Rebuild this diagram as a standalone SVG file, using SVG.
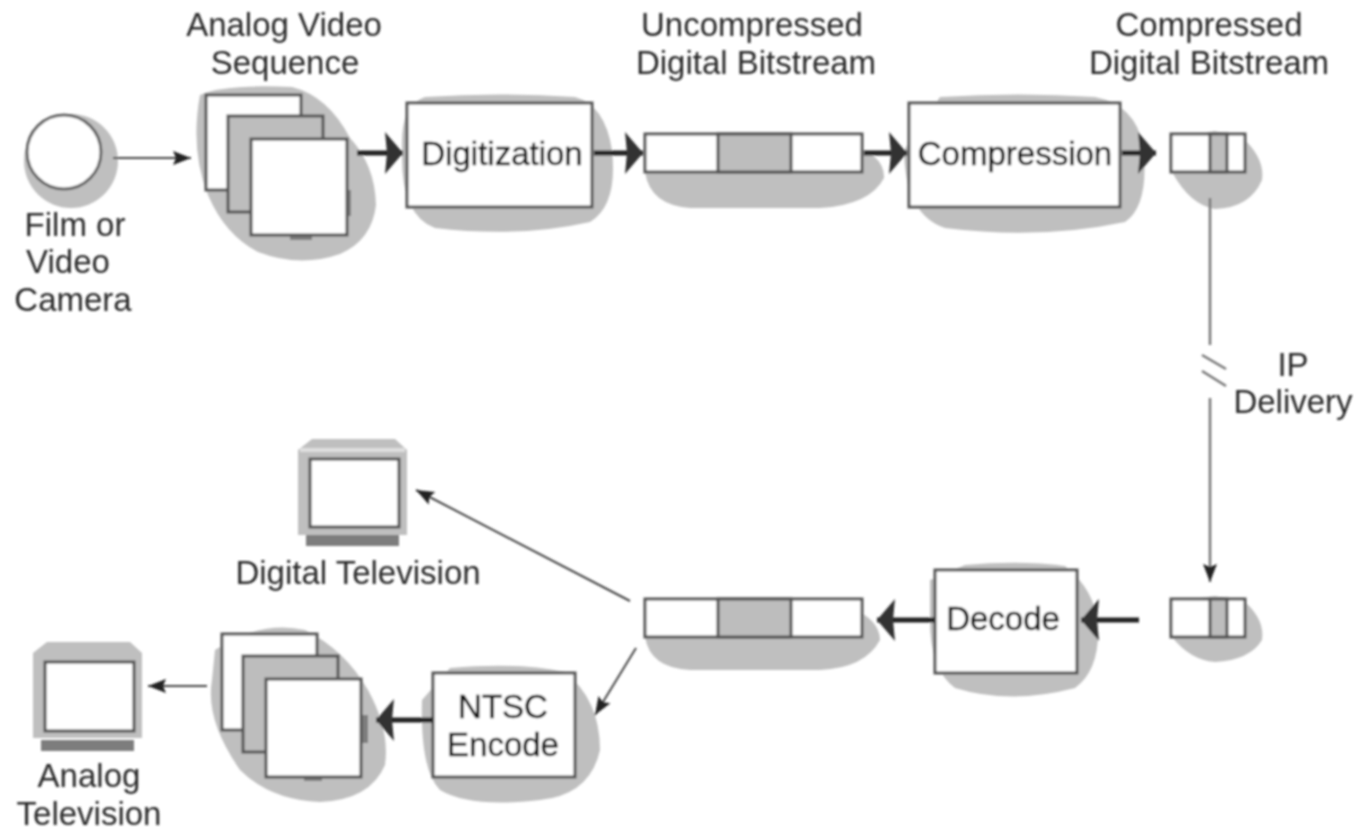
<svg xmlns="http://www.w3.org/2000/svg" width="1357" height="832" viewBox="0 0 1357 832">
<style>
.s{fill:#bfbfbf;stroke:none}
.b{fill:#fff;stroke:#555;stroke-width:3}
.g{fill:#bdbdbd;stroke:#555;stroke-width:3}
.d{fill:#7d7d7d;stroke:none}
.l{fill:#dedede;stroke:none}
.t{font-family:"Liberation Sans",Arial,sans-serif;font-size:33px;fill:#2a2a2a;text-anchor:middle}
.i{fill:#111;stroke:#111;stroke-width:.4}
.thick{fill:none;stroke:#222;stroke-width:5}
.thin{fill:none;stroke:#444;stroke-width:2}
.grey{fill:none;stroke:#777;stroke-width:2.5}
</style>
<defs>
<filter id="soft" x="0" y="0" width="1" height="1"><feGaussianBlur stdDeviation="0.8"/></filter>
<marker id="big" markerUnits="userSpaceOnUse" markerWidth="20" markerHeight="44" refX="18" refY="22" orient="auto"><path d="M0 1L18 22L0 43L2 22Z" fill="#333"/></marker>
<marker id="small" markerUnits="userSpaceOnUse" markerWidth="20" markerHeight="16" refX="18" refY="8" orient="auto"><path d="M0 1L18 8L0 15L3 8Z" fill="#222"/></marker>
</defs>
<rect width="1357" height="832" fill="#fff"/>
<g filter="url(#soft)">
<g id="camera">
<ellipse class="s" cx="71" cy="161" rx="47" ry="47"/>
<circle cx="64" cy="152" r="37" fill="#fff" stroke="#666" stroke-width="3"/>
<text class="t" x="75" y="236">Film or</text><text class="t" x="68" y="273">Video</text><text class="t" x="73" y="311">Camera</text>
</g>
<g id="analog-sequence">
<path class="s" d="M200 95Q222 84 292 87Q328 96 350 138Q375 165 376 205Q372 240 340 254Q300 268 258 252Q225 235 208 195Q190 150 200 95Z"/>
<rect class="d" x="290" y="232" width="22" height="8"/><rect class="d" x="345" y="190" width="6" height="26"/>
<rect class="b" x="206" y="95" width="95" height="95"/><rect class="g" x="228" y="116" width="95" height="96"/><rect class="b" x="251" y="139" width="96" height="96"/>
<text class="t" x="284" y="36">Analog Video</text><text class="t" x="285" y="74">Sequence</text>
</g>
<g id="digitization">
<path class="s" d="M425 97Q500 92 575 97Q605 105 612 150Q618 205 590 222Q520 238 435 228Q400 215 402 150Q400 105 425 97Z"/>
<rect class="b" x="407" y="103" width="185" height="104"/>
<text class="t i" x="502" y="165">Digitization</text>
</g>
<g id="bitstream-uncompressed">
<path class="s" d="M672 136Q750 130 850 145Q885 155 884 178Q870 205 820 208H690Q650 205 645 172V150Z"/>
<rect class="b" x="645" y="134" width="217" height="38"/><rect class="g" x="718" y="134" width="73" height="38"/>
<text class="t" x="752" y="36">Uncompressed</text><text class="t" x="756" y="74">Digital Bitstream</text>
</g>
<g id="compression">
<path class="s" d="M940 97Q1020 92 1095 97Q1135 105 1143 145Q1150 205 1125 222Q1040 240 945 228Q905 215 904 150Z"/>
<rect class="b" x="909" y="103" width="211" height="104"/>
<text class="t i" x="1015" y="165">Compression</text>
</g>
<g id="bitstream-compressed">
<path class="s" d="M1215 131L1245 140Q1265 160 1262 180Q1250 208 1215 209Q1190 205 1172 172V140Z"/>
<rect class="b" x="1171" y="134" width="74" height="38"/><rect class="g" x="1210" y="134" width="17" height="38"/>
<text class="t" x="1209" y="36">Compressed</text><text class="t" x="1209" y="74">Digital Bitstream</text>
</g>
<g id="ip-delivery"><text class="t" x="1293" y="376">IP</text><text class="t" x="1293" y="413">Delivery</text></g>
<g id="bitstream-compressed-2">
<path class="s" d="M1215 596L1245 602Q1265 620 1262 640Q1250 660 1215 662Q1190 660 1172 637V602Z"/>
<rect class="b" x="1171" y="599" width="74" height="38"/><rect class="g" x="1210" y="599" width="17" height="38"/>
</g>
<g id="decode">
<path class="s" d="M965 565Q1020 560 1065 566Q1095 590 1098 625Q1100 670 1075 688Q1010 705 955 688Q930 670 930 620V580Z"/>
<rect class="b" x="935" y="570" width="142" height="103"/>
<text class="t i" x="1003" y="630">Decode</text>
</g>
<g id="bitstream-decoded">
<path class="s" d="M672 601Q750 593 850 607Q880 620 880 640Q865 668 820 670H690Q650 668 645 637V610Z"/>
<rect class="b" x="645" y="599" width="217" height="38"/><rect class="g" x="718" y="599" width="73" height="38"/>
</g>
<g id="digital-tv">
<path class="s" d="M298 450L312 439H395L407 450V535H298Z"/>
<rect class="l" x="300" y="448" width="105" height="4"/>
<rect class="b" x="310" y="459" width="89" height="68"/>
<rect class="d" x="306" y="535" width="93" height="11"/>
<text class="t" x="358" y="584">Digital Television</text>
</g>
<g id="ntsc-encode">
<path class="s" d="M450 668Q520 662 565 672Q600 700 600 750Q590 795 540 800Q470 808 440 790Q420 770 422 700Z"/>
<rect class="b" x="433" y="673" width="142" height="104"/>
<text class="t i" x="503" y="718">NTSC</text><text class="t i" x="503" y="756">Encode</text>
</g>
<g id="analog-sequence-2">
<path class="s" d="M215 650Q260 620 305 630Q345 650 368 690Q390 730 385 765Q370 800 320 802Q270 800 240 770Q205 720 212 680Z"/>
<rect class="d" x="304" y="774" width="18" height="7"/><rect class="d" x="360" y="715" width="8" height="28"/>
<rect class="b" x="222" y="634" width="95" height="96"/><rect class="g" x="243" y="656" width="95" height="96"/><rect class="b" x="266" y="679" width="95" height="98"/>
</g>
<g id="analog-tv">
<path class="s" d="M33 653L47 642H130L142 653V738H33Z"/>
<rect class="b" x="45" y="662" width="89" height="69"/>
<rect class="d" x="41" y="740" width="93" height="11"/>
<text class="t" x="89" y="787">Analog</text><text class="t" x="89" y="825">Television</text>
</g>
<g id="connectors">
<line class="thin" x1="113" y1="158" x2="191" y2="158" marker-end="url(#small)"/>
<line class="thick" x1="357" y1="153" x2="403" y2="153" marker-end="url(#big)"/>
<line class="thick" x1="594" y1="153" x2="643" y2="153" marker-end="url(#big)"/>
<line class="thick" x1="864" y1="153" x2="907" y2="153" marker-end="url(#big)"/>
<line class="thick" x1="1122" y1="153" x2="1156" y2="153" marker-end="url(#big)"/>
<line class="grey" x1="1210" y1="198" x2="1210" y2="345"/>
<line class="grey" x1="1202" y1="355" x2="1226" y2="369"/>
<line class="grey" x1="1202" y1="371" x2="1226" y2="386"/>
<line class="grey" x1="1210" y1="398" x2="1210" y2="582" marker-end="url(#small)"/>
<line class="thick" x1="1139" y1="620" x2="1081" y2="620" marker-end="url(#big)"/>
<line class="thick" x1="935" y1="620" x2="877" y2="620" marker-end="url(#big)"/>
<line class="thin" x1="630" y1="601" x2="416" y2="490" marker-end="url(#small)"/>
<line class="thin" x1="636" y1="648" x2="595" y2="715" marker-end="url(#small)"/>
<line class="thick" x1="433" y1="720" x2="376" y2="720" marker-end="url(#big)"/>
<line class="thin" x1="207" y1="686" x2="148" y2="686" marker-end="url(#small)"/>
</g>
</g>
</svg>
